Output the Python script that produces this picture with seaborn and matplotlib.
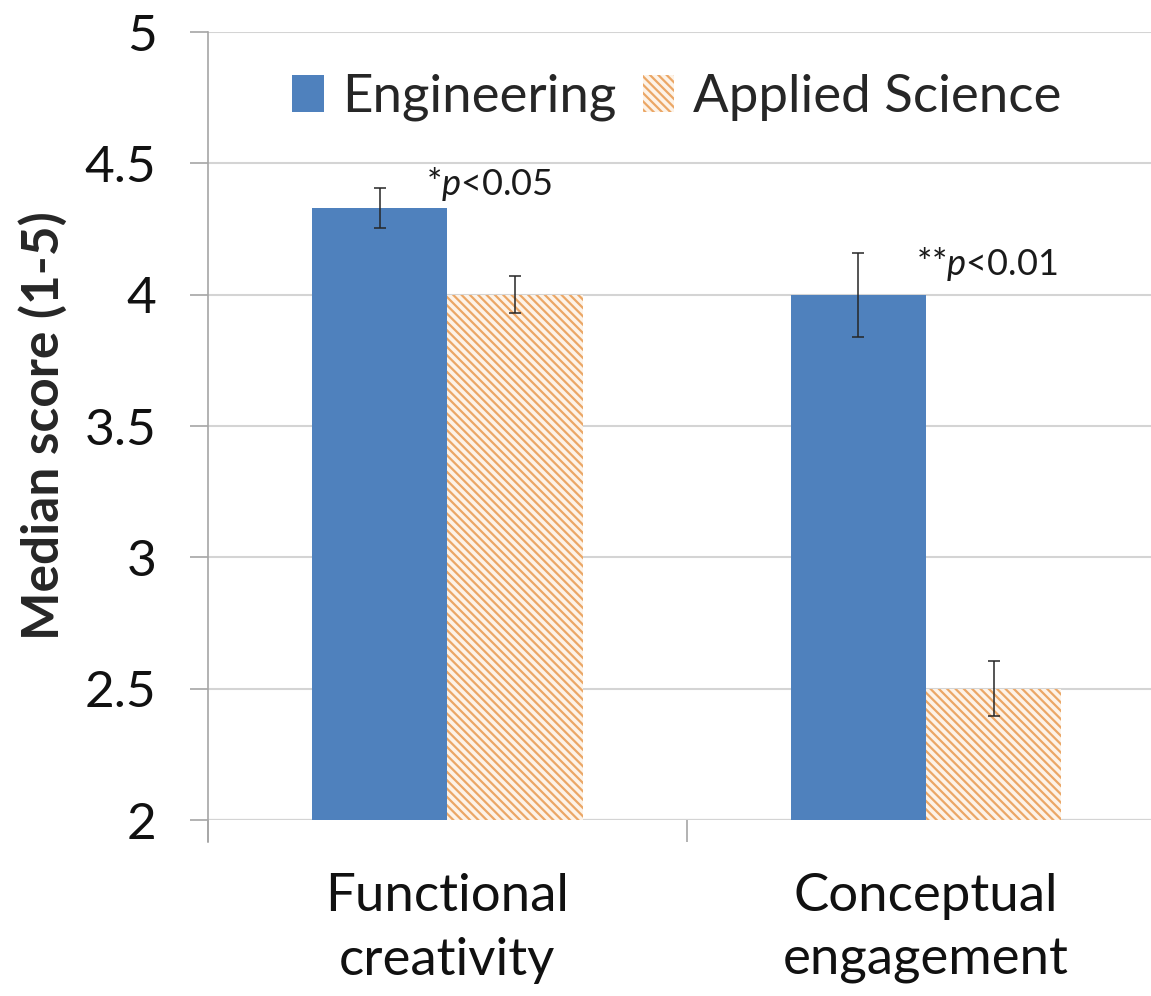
import numpy as np
import pandas as pd
import matplotlib
matplotlib.use("Agg")
import matplotlib.pyplot as plt
import matplotlib.patches as mpatches
import seaborn as sns

categories = ["Functional\ncreativity", "Conceptual\nengagement"]
groups = ["Engineering", "Applied Science"]
engineering = [4.33, 4.0]
applied = [4.0, 2.5]
engineering_err = [0.075, 0.16]
applied_err = [0.07, 0.105]
annotations = ["*$p$<0.05", "**$p$<0.01"]
yticks = [2, 2.5, 3, 3.5, 4, 4.5, 5]
ytick_labels = ["2", "2.5", "3", "3.5", "4", "4.5", "5"]

sns.set_theme(style="white")
plt.rcParams["font.family"] = ["Lato", "DejaVu Sans"]
plt.rcParams["mathtext.fontset"] = "custom"
plt.rcParams["mathtext.rm"] = "Lato"
plt.rcParams["mathtext.it"] = "Lato:italic"
plt.rcParams["hatch.linewidth"] = 1.6

df = pd.DataFrame({
    "category": categories * 2,
    "group": [groups[0]] * 2 + [groups[1]] * 2,
    "value": engineering + applied,
    "err": engineering_err + applied_err,
})

fig = plt.figure(figsize=(11.51, 9.96), dpi=100)
ax = fig.add_axes([208 / 1151, 1 - 820 / 996, (1151 - 208) / 1151, (820 - 32) / 996])

blue = "#4F81BD"
orange = "#EBA766"
cream = "#FDF3E8"
sns.barplot(data=df, x="category", y="value", hue="group", hue_order=groups,
            palette=[blue, orange], width=0.566, gap=0, errorbar=None,
            saturation=1, ax=ax, legend=False)

n = len(categories)
bars = ax.patches[: 2 * n]
for i, p in enumerate(bars):
    p.set_linewidth(0)
    if i >= n:
        p.set_facecolor(cream)
        p.set_edgecolor(orange)
        p.set_hatch("\\\\\\\\")

# error bars
for i, p in enumerate(bars):
    x = p.get_x() + p.get_width() / 2
    ax.errorbar(x, df["value"].iloc[i], yerr=df["err"].iloc[i], fmt="none",
                ecolor="#262626", elinewidth=1.1, capsize=4.5, capthick=1.1, zorder=5)

# significance annotations
offsets = [(-0.045, 0.05), (-0.02, 0.075)]
for j, txt in enumerate(annotations):
    p = bars[j]
    dx, dy = offsets[j]
    ax.text(p.get_x() + p.get_width() + dx, df["value"].iloc[j] + dy, txt,
            fontsize=26, ha="left", va="baseline", color="#1a1a1a")

ax.set_ylim(2, 5)
ax.set_yticks(yticks)
ax.set_yticklabels(ytick_labels)
ax.set_xticks([0, 1])
ax.set_xticks([-0.5, 0.5, 1.5], minor=True)
ax.set_xlim(-0.5, 1.47)

ax.yaxis.grid(True, color="#D4D4D4", linewidth=1.5)
ax.set_axisbelow(True)
ax.set_xlabel("")
ax.set_ylabel("Median score (1-5)", fontsize=37, fontweight="bold", labelpad=12)
ax.tick_params(axis="y", labelsize=37, length=13, width=1.2, color="#A6A6A6",
               left=True, pad=24, labelcolor="#111111")
ax.tick_params(axis="x", which="major", labelsize=38, length=0, pad=38,
               labelcolor="#111111")
ax.tick_params(axis="x", which="minor", length=16, width=1.2, color="#A6A6A6",
               bottom=True, direction="out")
for s in ["top", "right", "bottom"]:
    ax.spines[s].set_visible(False)
ax.spines["left"].set_color("#A6A6A6")
ax.spines["left"].set_linewidth(1.2)
ax.spines["left"].set_bounds(2 - 22 / 262.67, 5)
ax.axhline(2, color="#A6A6A6", linewidth=1.5, zorder=0.5)

for lab in ax.get_xticklabels():
    lab.set_linespacing(1.45)

handles = [mpatches.Patch(facecolor=blue, edgecolor=blue, linewidth=0),
           mpatches.Patch(facecolor=cream, edgecolor=orange, hatch="\\\\\\\\", linewidth=0)]
ax.legend(handles, groups, loc="center", bbox_to_anchor=(0.497, 0.917), ncol=2,
          frameon=False, fontsize=38, handlelength=0.6, handleheight=0.7,
          handletextpad=0.35, columnspacing=0.5)

fig.savefig("out.png", dpi=100)
